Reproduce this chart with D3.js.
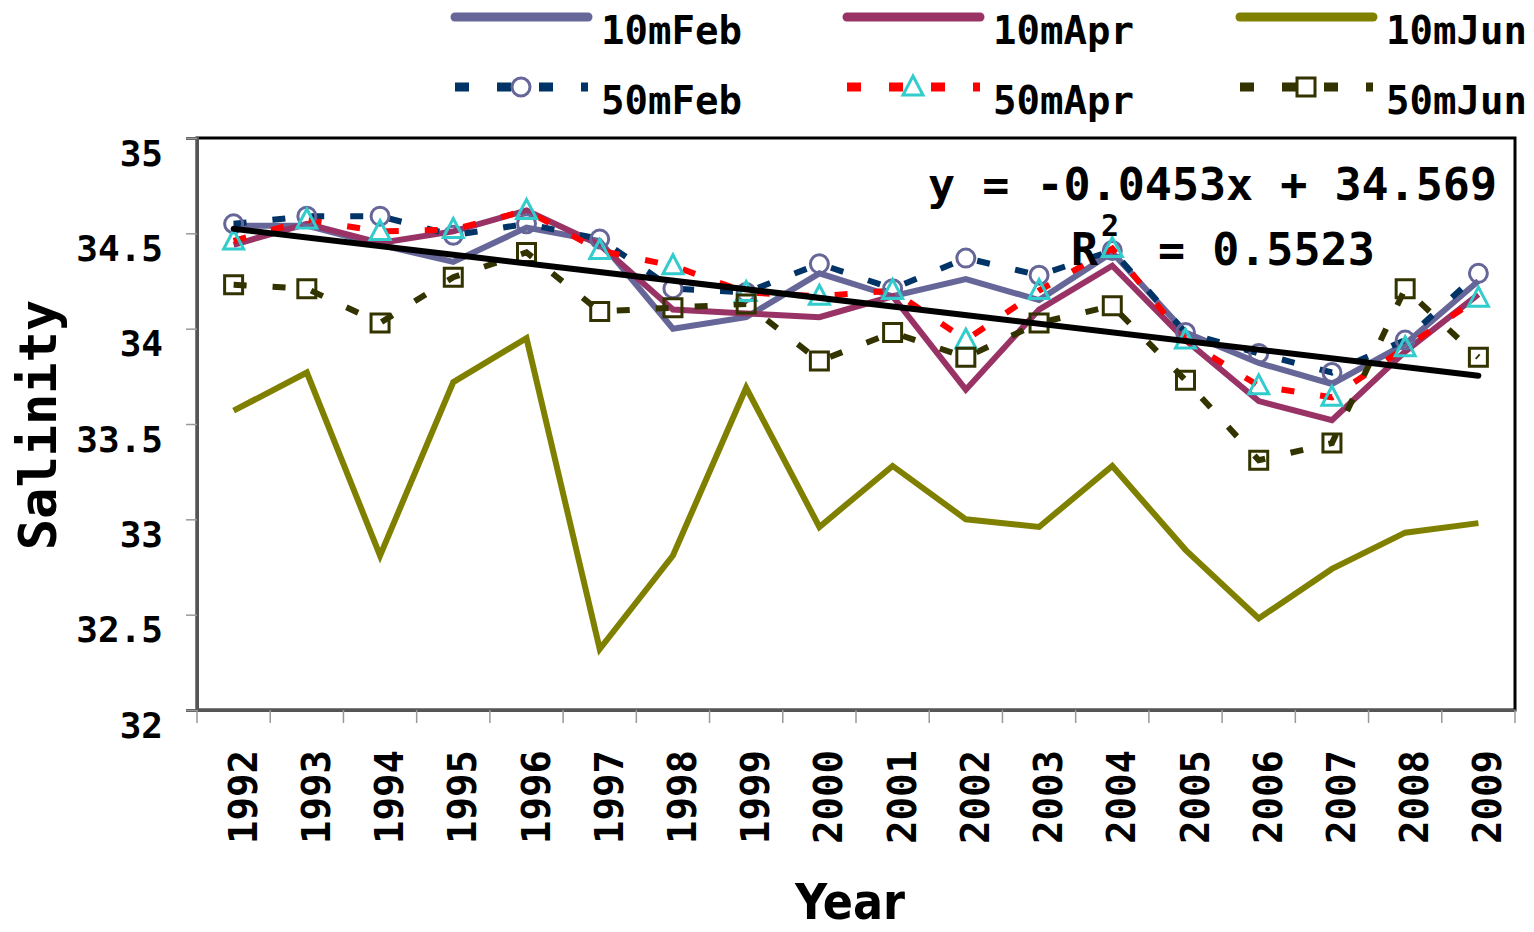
<!DOCTYPE html>
<html>
<head>
<meta charset="utf-8">
<script src="https://cdn.jsdelivr.net/npm/d3@7"></script>
<style>
  html, body { margin: 0; padding: 0; background: #fff; }
  svg { display: block; }
</style>
</head>
<body>
<svg id="chart" width="1534" height="932"></svg>
<script>
const years = ['1992', '1993', '1994', '1995', '1996', '1997', '1998', '1999', '2000',
  '2001', '2002', '2003', '2004', '2005', '2006', '2007', '2008', '2009']

const feb10 = [34.54, 34.54, 34.44, 34.35, 34.53, 34.46, 34.00, 34.06, 34.29,
  34.17, 34.26, 34.15, 34.40, 33.98, 33.82, 33.71, 33.92, 34.25]
const apr10 = [34.44, 34.55, 34.45, 34.51, 34.62, 34.44, 34.10, 34.08, 34.06,
  34.17, 33.68, 34.10, 34.33, 33.94, 33.62, 33.52, 33.88, 34.18]
const jun10 = [33.57, 33.77, 32.81, 33.72, 33.95, 32.32, 32.81, 33.69, 32.96,
  33.28, 33.00, 32.96, 33.28, 32.84, 32.48, 32.74, 32.93, 32.98]
const feb50 = [34.55, 34.59, 34.59, 34.49, 34.55, 34.47, 34.21, 34.19, 34.34,
  34.21, 34.37, 34.28, 34.41, 33.98, 33.87, 33.77, 33.94, 34.29]
const apr50 = [34.46, 34.57, 34.51, 34.52, 34.62, 34.41, 34.33, 34.19, 34.17,
  34.20, 33.94, 34.20, 34.42, 33.94, 33.70, 33.64, 33.90, 34.16]
const jun50 = [34.23, 34.21, 34.03, 34.27, 34.40, 34.09, 34.11, 34.13, 33.83,
  33.98, 33.85, 34.03, 34.12, 33.73, 33.31, 33.40, 34.21, 33.85]

const yTicks = [32, 32.5, 33, 33.5, 34, 34.5, 35]
const trendSlope = -0.0453
const trendIntercept = 34.569

const series = [
  { name: '10mFeb', values: feb10, line: '#666699', dashed: false, marker: null },
  { name: '10mApr', values: apr10, line: '#993366', dashed: false, marker: null },
  { name: '10mJun', values: jun10, line: '#808000', dashed: false, marker: null },
  { name: '50mFeb', values: feb50, line: '#003366', dashed: true, marker: 'circle', markerColor: '#666699' },
  { name: '50mApr', values: apr50, line: '#ff0000', dashed: true, marker: 'triangle', markerColor: '#33cccc' },
  { name: '50mJun', values: jun50, line: '#333300', dashed: true, marker: 'square', markerColor: '#333300' }
]

const mono = '"DejaVu Sans Mono", monospace'

const svg = d3.select('#chart')
const plot = { left: 197, top: 138, right: 1515, bottom: 710 }

const x = d3.scaleBand()
  .domain(years)
  .range([plot.left, plot.right])
  .padding(0)

const y = d3.scaleLinear()
  .domain([32, 35])
  .range([plot.bottom, plot.top])

const cx = d => x(d) + x.bandwidth() / 2

function markerPath(type) {
  if (type === 'circle') return d3.symbol().type(d3.symbolCircle).size(Math.PI * 9 * 9)()
  if (type === 'triangle') return 'M0,-11 L10,8 L-10,8 Z'
  return 'M-9,-9 L9,-9 L9,9 L-9,9 Z'
}

// frame
svg.append('rect')
  .attr('x', plot.left)
  .attr('y', plot.top)
  .attr('width', plot.right - plot.left)
  .attr('height', plot.bottom - plot.top)
  .attr('fill', 'none')
  .attr('stroke', '#000')
  .attr('stroke-width', 3)

// y axis
const yAxis = svg.append('g')
  .attr('transform', `translate(${plot.left},0)`)
  .call(d3.axisLeft(y).tickValues(yTicks).tickSize(11).tickFormat(d3.format('')))

yAxis.select('.domain').attr('stroke', '#555').attr('stroke-width', 3)
yAxis.selectAll('.tick line').attr('stroke', '#999').attr('stroke-width', 1.5)
yAxis.selectAll('.tick text')
  .attr('x', -34)
  .attr('dy', 27)
  .attr('fill', '#000')
  .attr('font-family', mono)
  .attr('font-weight', 'bold')
  .attr('font-size', 36)

// x axis
const xAxis = svg.append('g')
  .attr('transform', `translate(0,${plot.bottom})`)
  .call(d3.axisBottom(x).tickSize(0).tickFormat(''))

xAxis.select('.domain').attr('stroke', '#555').attr('stroke-width', 3)

svg.append('g')
  .selectAll('line')
  .data(d3.range(years.length + 1))
  .join('line')
  .attr('x1', i => plot.left + i * x.bandwidth())
  .attr('x2', i => plot.left + i * x.bandwidth())
  .attr('y1', plot.bottom)
  .attr('y2', plot.bottom + 13)
  .attr('stroke', '#999')
  .attr('stroke-width', 1.5)

svg.append('g')
  .selectAll('text')
  .data(years)
  .join('text')
  .attr('transform', d => `translate(${cx(d) + 23},750) rotate(-90)`)
  .attr('text-anchor', 'end')
  .attr('font-family', mono)
  .attr('font-weight', 'bold')
  .attr('font-size', 39)
  .text(d => d)

// axis titles
svg.append('text')
  .attr('transform', 'translate(56,425) rotate(-90)')
  .attr('text-anchor', 'middle')
  .attr('font-family', mono)
  .attr('font-weight', 'bold')
  .attr('font-size', 52)
  .text('Salinity')

svg.append('text')
  .attr('x', 795)
  .attr('y', 919)
  .attr('textLength', 110)
  .attr('lengthAdjust', 'spacingAndGlyphs')
  .attr('font-family', '"DejaVu Sans Condensed", "DejaVu Sans", sans-serif')
  .attr('font-weight', 'bold')
  .attr('font-size', 50)
  .text('Year')

// series lines
const line = d3.line()
  .x((d, i) => cx(years[i]))
  .y(d => y(d))

const g = svg.append('g')

g.selectAll('.series-line')
  .data(series)
  .join('path')
  .attr('class', 'series-line')
  .attr('d', d => line(d.values))
  .attr('fill', 'none')
  .attr('stroke', d => d.line)
  .attr('stroke-width', 6)
  .attr('stroke-dasharray', d => d.dashed ? '13,26' : null)

series.filter(s => s.marker).forEach(s => {
  g.append('g')
    .selectAll('path')
    .data(s.values)
    .join('path')
    .attr('transform', (d, i) => `translate(${cx(years[i])},${y(d)})`)
    .attr('d', markerPath(s.marker))
    .attr('fill', 'none')
    .attr('stroke', s.markerColor)
    .attr('stroke-width', 3)
})

// linear trend
const trendX = [1, years.length]
svg.append('line')
  .attr('x1', cx(years[0]))
  .attr('y1', y(trendIntercept + trendSlope * trendX[0]))
  .attr('x2', cx(years[years.length - 1]))
  .attr('y2', y(trendIntercept + trendSlope * trendX[1]))
  .attr('stroke', '#000')
  .attr('stroke-width', 6)
  .attr('stroke-linecap', 'round')

// equation
svg.append('text')
  .attr('x', 1497)
  .attr('y', 200)
  .attr('text-anchor', 'end')
  .attr('font-family', mono)
  .attr('font-weight', 'bold')
  .attr('font-size', 45)
  .text(`y = ${trendSlope}x + ${trendIntercept}`)

const r2 = svg.append('text')
  .attr('font-family', mono)
  .attr('font-weight', 'bold')
  .attr('font-size', 45)
r2.append('tspan').attr('x', 1071).attr('y', 265).text('R')
r2.append('tspan').attr('x', 1101).attr('y', 236).attr('font-size', 30).text('2')
r2.append('tspan').attr('x', 1158).attr('y', 265).text('= 0.5523')

// legend
const legendCols = [455, 847, 1240]
const legend = svg.append('g')

series.forEach((s, i) => {
  const col = legendCols[i % 3]
  const row = Math.floor(i / 3)
  const ly = row === 0 ? 17 : 87
  const item = legend.append('g')

  item.append('line')
    .attr('x1', col)
    .attr('x2', col + 133)
    .attr('y1', ly)
    .attr('y2', ly)
    .attr('stroke', s.line)
    .attr('stroke-width', 9)
    .attr('stroke-linecap', s.dashed ? 'butt' : 'round')
    .attr('stroke-dasharray', s.dashed ? '14,28' : null)

  if (s.marker) {
    item.append('path')
      .attr('transform', `translate(${col + 66},${ly})`)
      .attr('d', markerPath(s.marker))
      .attr('fill', 'none')
      .attr('stroke', s.markerColor)
      .attr('stroke-width', 3)
  }

  item.append('text')
    .attr('x', col + 146)
    .attr('y', ly + 27)
    .attr('font-family', mono)
    .attr('font-weight', 'bold')
    .attr('font-size', 39)
    .text(s.name)
})
</script>
</body>
</html>
